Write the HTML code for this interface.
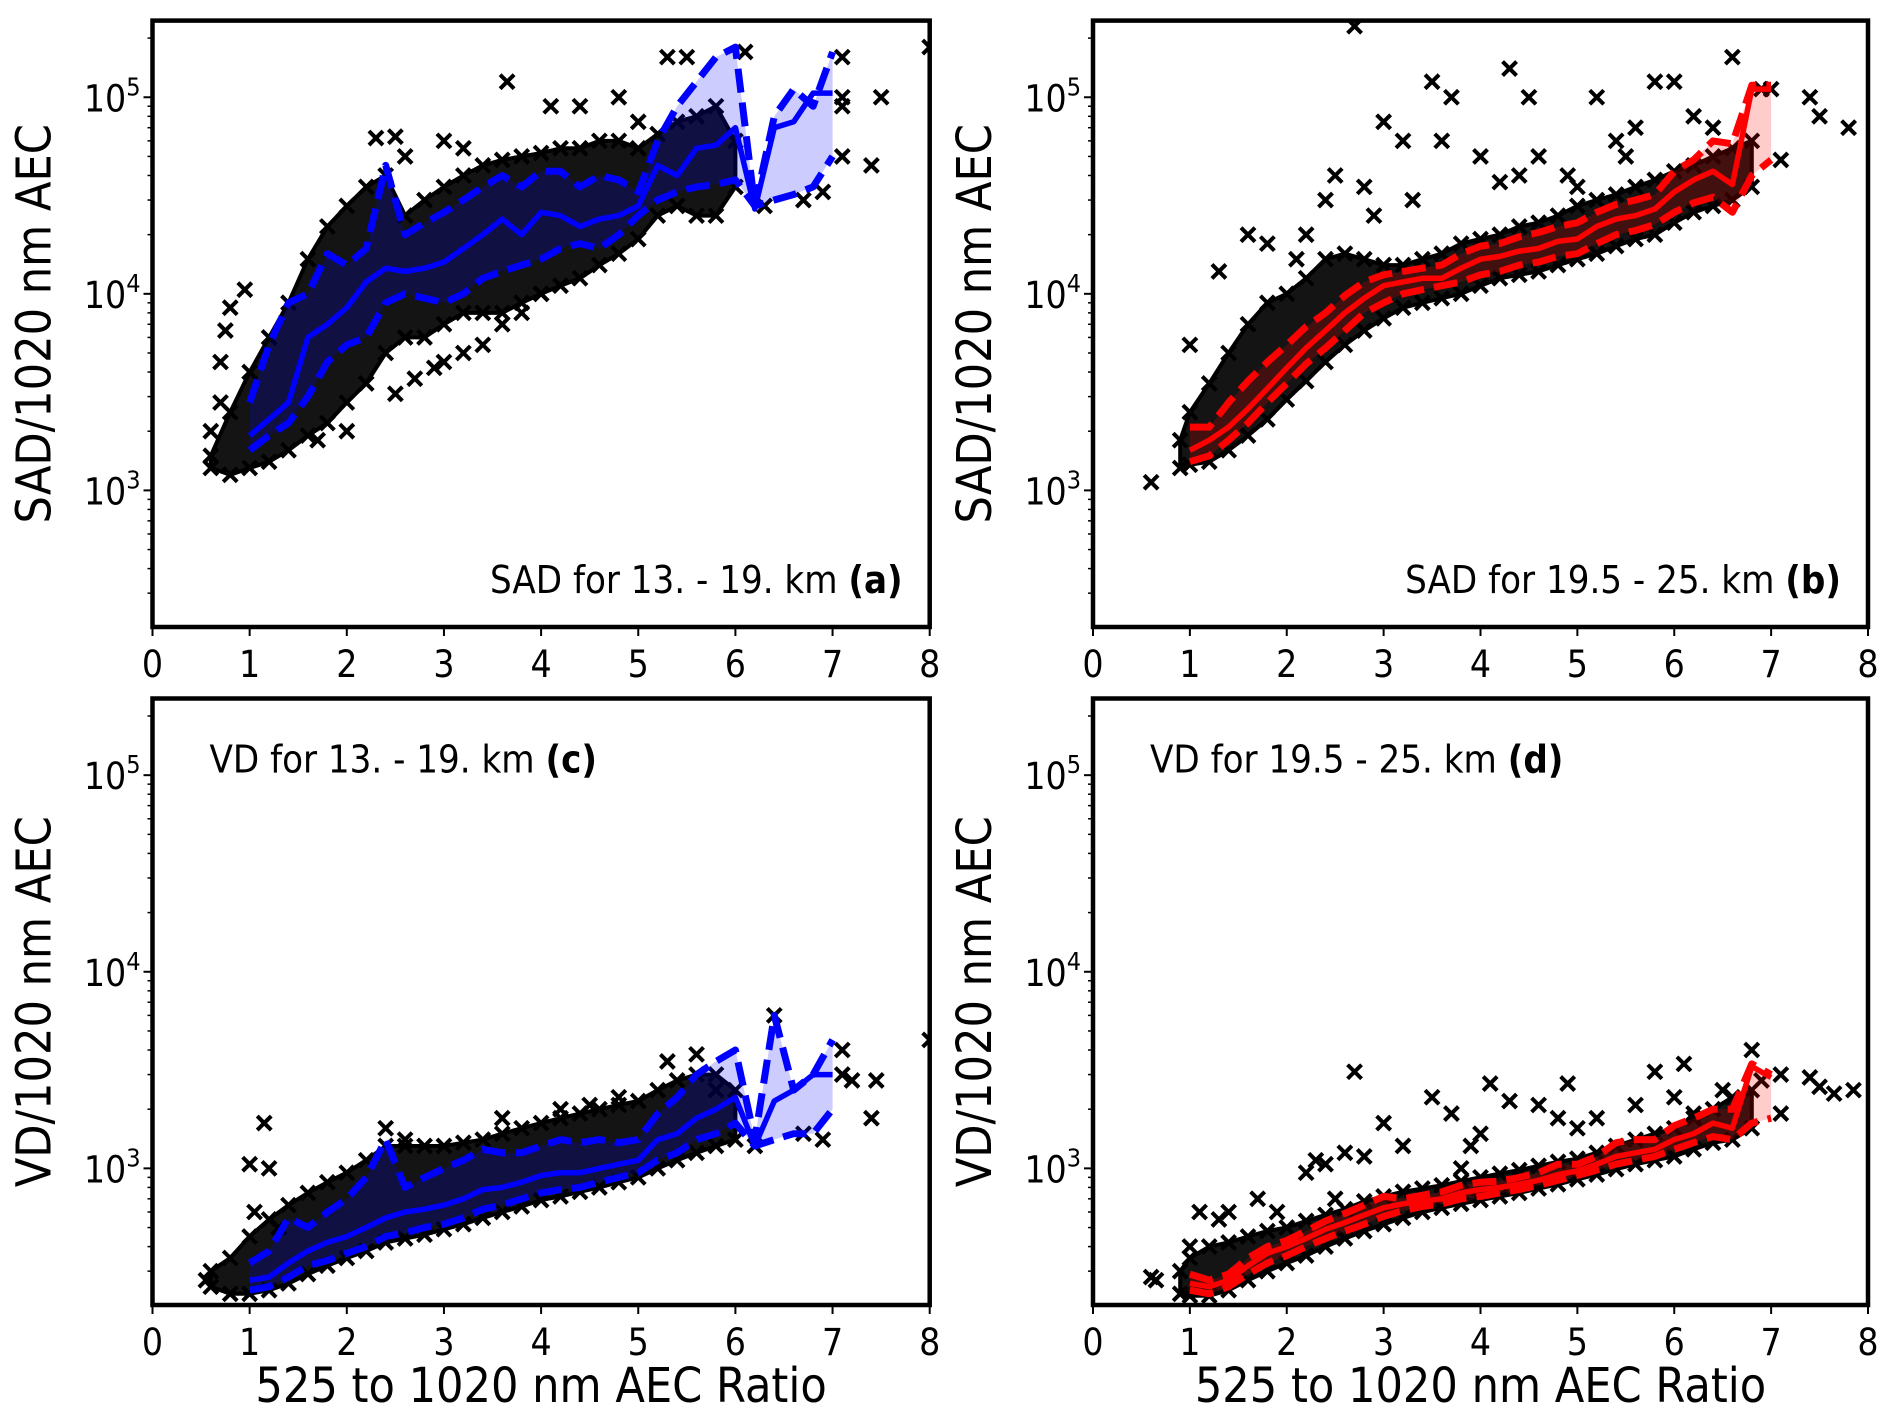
<!DOCTYPE html>
<html><head><meta charset="utf-8"><style>
html,body{margin:0;padding:0;background:#fff}
svg{display:block}
text{font-family:"DejaVu Sans Condensed","DejaVu Sans","Liberation Sans",sans-serif;fill:#000}
</style></head><body>
<svg id="fig" width="1892" height="1419" viewBox="0 0 1892 1419" xmlns="http://www.w3.org/2000/svg"></svg>
<script>
// shared x grid for binned statistics
const binX=[1,1.2,1.4,1.6,1.8,2,2.2,2.4,2.6,2.8,3,3.2,3.4,3.6,3.8,4,4.2,4.4,4.6,4.8,5,5.2,5.4,5.6,5.8,6,6.2,6.4,6.6,6.8,7];
const xTicks=[0,1,2,3,4,5,6,7,8];
const yTickExp=[3,4,5];
// panel a
const aMed=[1900,2300,2800,6000,7000,8500,11500,13500,13000,13500,14500,17000,20000,24000,20000,26000,25000,22000,24000,25000,28000,45000,40000,55000,57000,70000,27000,70000,75000,105000,105000];
const aUp=[2800,5500,9000,10000,16000,14000,17000,45000,20000,23000,26000,30000,35000,40000,35000,42000,42000,35000,40000,38000,33000,60000,90000,120000,160000,180000,28000,80000,110000,90000,170000];
const aLo=[1600,1900,2200,3000,4500,5500,6000,9000,10000,9500,9000,10000,12000,13000,14000,15000,17000,18000,17000,20000,25000,30000,33000,35000,36000,38000,28000,30000,32000,35000,50000];
const aCloudX=[0.6,0.8,1,1.2,1.4,1.6,1.8,2,2.2,2.4,2.6,2.8,3,3.2,3.4,3.6,3.8,4,4.2,4.4,4.6,4.8,5,5.2,5.4,5.6,5.8,6];
const aCloudTop=[1500,2500,4000,6000,9000,15000,22000,28000,35000,40000,25000,30000,35000,40000,45000,48000,50000,52000,55000,55000,60000,60000,55000,65000,75000,80000,90000,60000];
const aCloudBot=[1300,1200,1300,1400,1600,1900,2200,2800,3500,5000,6000,6000,7000,8000,8000,8000,9000,10000,11000,12000,14000,16000,19000,25000,28000,25000,25000,35000];
const aOutX=[3.65,5.3,5.5,6.1,7.1,8,7.5,7.4,7.1,7.1,7.1,4.4,4.1,4.8,5,2.3,2.5,2.6,3,3.2,0.8,0.75,0.95,0.7,0.7,0.6,2.5,2.7,2.9,3,3.2,3.4,3.6,3.8,4,6.7,6.9,6.3,1.7,2.0];
const aOutY=[120000,160000,160000,170000,160000,180000,100000,45000,50000,100000,90000,90000,90000,100000,75000,62000,63000,50000,60000,55000,8500,6500,10500,4500,2800,2000,3100,3700,4200,4500,5000,5500,7000,8000,10000,30000,33000,28000,1800,2000];
// panel b
const bMed=[1600,1800,2100,2600,3300,4200,5300,6500,8000,9500,11000,11500,12000,12000,13500,15000,15500,16500,17000,18500,19000,22000,24000,25000,27000,33000,38000,42000,36000,110000,110000];
const bUp=[2100,2100,2800,3600,4500,5500,6800,8000,9800,11500,12500,13000,13500,14000,16000,17500,18000,19500,20500,22000,23000,26000,28500,30000,32000,42000,48000,60000,58000,115000,115000];
const bLo=[1400,1500,1800,2200,2800,3500,4400,5300,6500,8000,9000,10000,10500,11000,11500,12500,13000,14000,14500,15500,16000,18000,20000,21000,22500,26000,29000,31000,26000,40000,48000];
const bCloudX=[0.9,1,1.2,1.4,1.6,1.8,2,2.2,2.4,2.6,2.8,3,3.2,3.4,3.6,3.8,4,4.2,4.4,4.6,4.8,5,5.2,5.4,5.6,5.8,6,6.2,6.4,6.6,6.8];
const bCloudTop=[1800,2500,3500,5000,7000,9000,10000,12000,15000,16000,15000,14000,14000,15000,16000,18000,19000,20000,22000,23000,25000,28000,30000,32000,35000,38000,42000,45000,50000,55000,60000];
const bCloudBot=[1300,1350,1400,1600,1900,2300,2900,3600,4500,5500,6500,7500,8500,9000,9500,10000,11000,12000,12500,13000,14000,15000,16000,17500,19000,20000,23000,26000,28000,30000,35000];
const bOutX=[2.7,3.5,4.3,4.5,3.7,3.0,1.0,1.3,1.6,1.8,2.2,2.4,2.5,2.8,3.2,3.6,4.0,4.6,4.9,5.2,5.8,6.0,5.4,5.6,6.6,7.4,7.5,7.8,0.6,5.0,4.2,4.4,5.5,6.2,6.4,2.1,2.9,3.3,6.9,7.0,7.1];
const bOutY=[230000,120000,140000,100000,100000,75000,5500,13000,20000,18000,20000,30000,40000,35000,60000,60000,50000,50000,40000,100000,120000,120000,60000,70000,160000,100000,80000,70000,1100,35000,37000,40000,50000,80000,70000,15000,25000,30000,110000,110000,48000];
// panel c
const cMed=[270,280,330,380,420,450,500,560,600,620,650,700,780,800,850,920,950,950,1000,1050,1100,1400,1500,1800,2000,2300,1300,2200,2500,3000,3000];
const cUp=[330,380,560,500,600,700,900,1400,800,900,1000,1100,1250,1200,1200,1300,1400,1350,1400,1350,1400,1900,2300,3000,3500,4000,1400,6000,2500,3000,4500];
const cLo=[240,250,280,320,340,370,400,450,470,500,520,560,620,650,700,750,780,800,850,900,950,1100,1200,1400,1500,1700,1300,1400,1500,1500,2000];
const cCloudX=[0.6,0.8,1,1.2,1.4,1.6,1.8,2,2.2,2.4,2.6,2.8,3,3.2,3.4,3.6,3.8,4,4.2,4.4,4.6,4.8,5,5.2,5.4,5.6,5.8,6];
const cCloudTop=[300,350,450,550,650,750,850,950,1100,1300,1300,1300,1300,1350,1400,1500,1600,1700,1800,1900,2000,2100,2200,2500,2800,3000,3000,2500];
const cCloudBot=[250,230,230,240,260,290,320,350,380,420,440,460,490,520,560,600,640,690,720,760,800,850,900,1000,1100,1200,1300,1400];
const cOutX=[1,1.15,1.2,1.05,1.3,2.4,2.6,3.6,4.2,5.3,5.6,6.4,7.1,7.1,7.2,7.45,7.4,8,6.7,6.9,6.2,5.8,4.8,4.5,0.55];
const cOutY=[1050,1700,1000,600,500,1600,1400,1800,2000,3500,3800,6000,4000,3000,2800,2800,1800,4500,1500,1400,1300,2500,2300,2100,270];
// panel d
const dMed=[260,250,270,320,370,400,440,490,530,580,630,660,680,700,750,780,800,830,870,930,970,1050,1150,1200,1250,1400,1500,1700,1600,3300,2900];
const dUp=[290,270,290,350,400,430,480,540,590,650,720,700,730,760,820,850,860,900,950,1050,1050,1150,1350,1400,1400,1650,1800,2000,2000,3400,3000];
const dLo=[240,230,250,290,330,360,400,440,480,520,570,610,640,660,700,720,750,780,820,870,920,980,1050,1100,1150,1250,1350,1450,1400,1700,1800];
const dCloudX=[0.9,1,1.2,1.4,1.6,1.8,2,2.2,2.4,2.6,2.8,3,3.2,3.4,3.6,3.8,4,4.2,4.4,4.6,4.8,5,5.2,5.4,5.6,5.8,6,6.2,6.4,6.6,6.8];
const dCloudTop=[300,350,400,420,450,480,500,540,580,620,680,720,760,790,820,860,900,940,980,1030,1080,1120,1200,1300,1400,1500,1600,1800,2000,2300,2500];
const dCloudBot=[230,225,225,240,270,300,330,360,400,440,480,520,560,600,630,660,690,720,750,790,830,880,930,990,1050,1100,1150,1250,1350,1400,1600];
const dOutX=[0.6,0.65,1.1,1.3,1.4,1.0,1.7,1.9,2.2,2.3,2.4,2.6,2.7,2.8,3.0,3.2,3.5,3.7,3.9,4.1,4.0,4.3,4.6,4.9,4.8,5.0,5.2,5.6,5.8,6.1,6.0,6.2,6.8,7.1,7.1,7.4,7.5,7.65,7.85,6.9,6.5,3.8,2.5];
const dOutY=[280,270,600,550,600,400,700,600,950,1100,1050,1200,3100,1150,1700,1300,2300,1900,1300,2700,1500,2200,2100,2700,1800,1600,1800,2100,3100,3400,2300,1900,4000,3000,1900,2900,2600,2400,2500,2800,2500,1000,700];

const NS="http://www.w3.org/2000/svg";
const svg=document.getElementById('fig');
function mk(tag,attrs,parent){const e=document.createElementNS(NS,tag);for(const k in attrs)e.setAttribute(k,attrs[k]);(parent||svg).appendChild(e);return e;}

const panels=[
 {id:'a',L:152.5,R:929.7,T:20.6,B:627,col:'#0000ff',fill:'rgba(0,0,255,0.2)',med:aMed,up:aUp,lo:aLo,cx:aCloudX,ct:aCloudTop,cb:aCloudBot,ox:aOutX,oy:aOutY,ylab:'SAD/1020 nm AEC',title:'SAD for 13. - 19. km ',tag:'(a)',tpos:'br',xlab:false},
 {id:'b',L:1093,R:1868,T:20.6,B:627,col:'#ff0000',fill:'rgba(255,0,0,0.2)',med:bMed,up:bUp,lo:bLo,cx:bCloudX,ct:bCloudTop,cb:bCloudBot,ox:bOutX,oy:bOutY,ylab:'SAD/1020 nm AEC',title:'SAD for 19.5 - 25. km ',tag:'(b)',tpos:'br',xlab:false},
 {id:'c',L:152.5,R:929.7,T:698.5,B:1305,col:'#0000ff',fill:'rgba(0,0,255,0.2)',med:cMed,up:cUp,lo:cLo,cx:cCloudX,ct:cCloudTop,cb:cCloudBot,ox:cOutX,oy:cOutY,ylab:'VD/1020 nm AEC',title:'VD for 13. - 19. km ',tag:'(c)',tpos:'tl',xlab:true},
 {id:'d',L:1093,R:1868,T:698.5,B:1305,col:'#ff0000',fill:'rgba(255,0,0,0.2)',med:dMed,up:dUp,lo:dLo,cx:dCloudX,ct:dCloudTop,cb:dCloudBot,ox:dOutX,oy:dOutY,ylab:'VD/1020 nm AEC',title:'VD for 19.5 - 25. km ',tag:'(d)',tpos:'tl',xlab:true}
];
const LOGMIN=2.305, LOGMAX=5.39;

panels.forEach(p=>{
 const g=mk('g',{});
 
 
 const xs=v=>p.L+(v-0)/(8-0)*(p.R-p.L);
 const ys=v=>p.B-(Math.log10(v)-LOGMIN)/(LOGMAX-LOGMIN)*(p.B-p.T);
 const cid='clip'+p.id;
 const cp=mk('clipPath',{id:cid},g); mk('rect',{x:p.L,y:p.T,width:p.R-p.L,height:p.B-p.T},cp);
 const plot=mk('g',{'clip-path':'url(#'+cid+')'},g);
 let d='';
 p.cx.forEach((x,i)=>{d+=(i?'L':'M')+xs(x).toFixed(1)+','+ys(p.ct[i]).toFixed(1);});
 for(let i=p.cx.length-1;i>=0;i--)d+='L'+xs(p.cx[i]).toFixed(1)+','+ys(p.cb[i]).toFixed(1);
 const cloud=mk('path',{d:d+'Z',fill:'#000','fill-opacity':'0.92',stroke:'#000','stroke-width':'4','stroke-linejoin':'round'},plot);
 
 
 const cross=(x,y,name)=>{
  const X=xs(x),Y=ys(y),s=7;
  const c=mk('path',{d:`M${X-s},${Y-s}L${X+s},${Y+s}M${X-s},${Y+s}L${X+s},${Y-s}`,stroke:'#000','stroke-width':'4'},plot);
  
  
 };
 p.cx.forEach((x,i)=>{cross(x,p.ct[i],'scatter-point');cross(x,p.cb[i],'scatter-point');});
 p.ox.forEach((x,i)=>cross(x,p.oy[i],'scatter-outlier'));
 let f='';
 binX.forEach((x,i)=>{f+=(i?'L':'M')+xs(x).toFixed(1)+','+ys(p.up[i]).toFixed(1);});
 for(let i=binX.length-1;i>=0;i--)f+='L'+xs(binX[i]).toFixed(1)+','+ys(p.lo[i]).toFixed(1);
 const band=mk('path',{d:f+'Z',fill:p.fill,stroke:'none'},plot);
 
 
 const line=(arr,dash,name,w)=>{
  const pts=binX.map((x,i)=>xs(x).toFixed(1)+','+ys(arr[i]).toFixed(1)).join(' ');
  const l=mk('polyline',{points:pts,fill:'none',stroke:p.col,'stroke-width':w,'stroke-dasharray':dash,'stroke-linejoin':'round'},plot);
  
  
 };
 line(p.up,'24,10','upper-quantile-line',7);
 line(p.lo,'24,10','lower-quantile-line',7);
 line(p.med,'none','median-line',5.5);
 const fr=mk('rect',{x:p.L,y:p.T,width:p.R-p.L,height:p.B-p.T,fill:'none',stroke:'#000','stroke-width':'4.5'},g);
 
 
 xTicks.forEach(v=>{
  const X=xs(v);
  mk('line',{x1:X,y1:p.B,x2:X,y2:p.B+9,stroke:'#000','stroke-width':'2'},g);
  const t=mk('text',{x:X,y:p.B+50,'font-size':'37','text-anchor':'middle'},g);
  t.textContent=v;
  
  
 });
 for(let e=2;e<=5;e++){
  for(let m=1;m<10;m++){
   const v=m*Math.pow(10,e);const lg=Math.log10(v);
   if(lg<LOGMIN||lg>LOGMAX)continue;
   const Y=ys(v);
   mk('line',{x1:p.L-(m===1?9:5),y1:Y,x2:p.L,y2:Y,stroke:'#000','stroke-width':m===1?2:1.5},g);
  }
 }
 yTickExp.forEach(e=>{
  const Y=ys(Math.pow(10,e));
  const t=mk('text',{x:p.L-12,y:Y+14,'font-size':'37','text-anchor':'end'},g);
  t.innerHTML='10<tspan dy="-16" font-size="25">'+e+'</tspan>';
  
  
 });
 const yl=mk('text',{x:0,y:0,'font-size':'48','text-anchor':'middle',transform:`translate(${p.L-102},${(p.T+p.B)/2}) rotate(-90)`},g);
 yl.textContent=p.ylab;
 
 
 if(p.xlab){
  const xl=mk('text',{x:(p.L+p.R)/2,y:1402,'font-size':'48','text-anchor':'middle'},g);
  xl.textContent='525 to 1020 nm AEC Ratio';
  
  
 }
 let ta;
 if(p.tpos==='br') ta=mk('text',{x:p.R-27,y:p.B-34,'font-size':'38','text-anchor':'end'},g);
 else ta=mk('text',{x:p.L+57,y:p.T+74,'font-size':'38','text-anchor':'start'},g);
 ta.innerHTML=p.title+'<tspan font-weight="bold">'+p.tag+'</tspan>';
 
 
});
</script>
</body></html>
